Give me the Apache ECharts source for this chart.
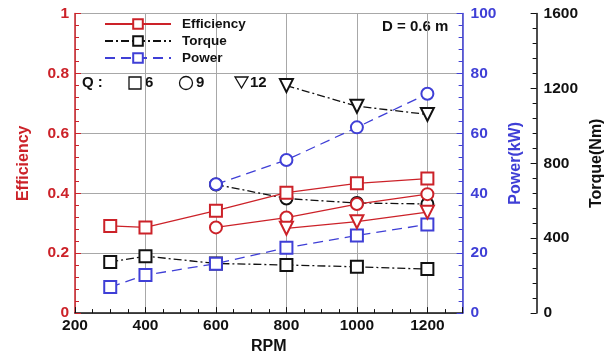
<!DOCTYPE html>
<html>
<head>
<meta charset="utf-8">
<script src="https://cdn.jsdelivr.net/npm/echarts@6/dist/echarts.min.js"></script>
<style>html,body{margin:0;padding:0;background:#fff;}#c{width:613px;height:360px;}</style>
</head>
<body>
<div id="c"></div>
<script>
// ---- data ----
const rpmQ6  = [300, 400, 600, 800, 1000, 1200];
const rpmQ9  = [600, 800, 1000, 1200];
const rpmQ12 = [800, 1000, 1200];

const effQ6  = [0.291, 0.286, 0.342, 0.402, 0.433, 0.449];
const effQ9  = [0.286, 0.319, 0.364, 0.397];
const effQ12 = [0.283, 0.305, 0.337];

const torqueQ6  = [273, 304, 265, 257, 247, 235];
const torqueQ9  = [687, 612, 588, 583];
const torqueQ12 = [1215, 1105, 1061];

const powerQ6 = [8.7, 12.7, 16.5, 21.8, 25.9, 29.6];
const powerQ9 = [43.0, 51.1, 62.0, 73.2];

const legendNames = ['Efficiency', 'Torque', 'Power'];

// ---- styles ----
const RED = '#cc2229', BLUE = '#3f3fd6', BLACK = '#111111';
const FONT = 'Liberation Sans, Arial, sans-serif';
const pair = (xs, ys) => xs.map((x, i) => [x, ys[i]]);
const plain = v => String(v);

function mk(name, xs, ys, yIdx, color, dash, symbol, z) {
  return {
    name: name, type: 'line', yAxisIndex: yIdx,
    data: pair(xs, ys),
    symbol: symbol, symbolSize: symbol === 'emptyTriangle' ? 13 : 12,
    symbolRotate: symbol === 'emptyTriangle' ? 180 : 0,
    showSymbol: true,
    lineStyle: { color: color, width: 1.3, type: dash },
    itemStyle: { color: color, borderColor: color, borderWidth: 1.3 },
    emphasis: { disabled: true },
    animation: false, z: z
  };
}

const chart = echarts.init(document.getElementById('c'), null, { renderer: 'canvas' });
chart.setOption({
  animation: false,
  grid: { left: 75, right: 147, top: 13.5, bottom: 40 },
  legend: {
    data: legendNames,
    orient: 'vertical', left: 99, top: 11,
    itemWidth: 66, itemHeight: 12, itemGap: 1,
    textStyle: { fontFamily: FONT, fontSize: 13.5, fontWeight: 'bold', color: BLACK, padding: [0, 0, 0, 6], lineHeight: 16 },
    selectedMode: false
  },
  xAxis: {
    type: 'value', min: 200, max: 1300, interval: 200,
    axisLine: { show: true, lineStyle: { color: BLACK, width: 1.5 } },
    axisTick: { show: true, inside: true, length: 6, lineStyle: { color: BLACK } },
    minorTick: { show: true, splitNumber: 4, length: 4, lineStyle: { color: BLACK } },
    axisLabel: { color: BLACK, fontFamily: FONT, fontSize: 15.5, fontWeight: 'bold', margin: 5, formatter: plain, showMaxLabel: false },
    splitLine: { show: true, lineStyle: { color: '#a8a8a8', width: 1 } },
    name: 'RPM', nameLocation: 'middle', nameGap: 23,
    nameTextStyle: { color: BLACK, fontFamily: FONT, fontSize: 16, fontWeight: 'bold' }
  },
  yAxis: [
    {
      type: 'value', position: 'left', min: 0, max: 1, interval: 0.2,
      axisLine: { show: true, lineStyle: { color: RED, width: 1.5 } },
      axisTick: { show: true, inside: true, length: 6, lineStyle: { color: RED } },
      minorTick: { show: true, splitNumber: 5, length: 4, lineStyle: { color: RED } },
      axisLabel: { color: RED, fontFamily: FONT, fontSize: 15.5, fontWeight: 'bold', margin: 6, formatter: plain },
      splitLine: { show: true, lineStyle: { color: '#a8a8a8', width: 1 } },
      name: 'Efficiency', nameLocation: 'middle', nameGap: 43, nameRotate: 90,
      nameTextStyle: { color: RED, fontFamily: FONT, fontSize: 16, fontWeight: 'bold' }
    },
    {
      type: 'value', position: 'right', min: 0, max: 100, interval: 20,
      axisLine: { show: true, lineStyle: { color: BLUE, width: 1.5 } },
      axisTick: { show: true, inside: true, length: 6, lineStyle: { color: BLUE } },
      minorTick: { show: true, splitNumber: 5, length: 4, lineStyle: { color: BLUE } },
      axisLabel: { color: BLUE, fontFamily: FONT, fontSize: 15.5, fontWeight: 'bold', margin: 8, formatter: plain },
      splitLine: { show: false },
      name: 'Power(kW)', nameLocation: 'middle', nameGap: 30, nameRotate: 90,
      nameTextStyle: { color: BLUE, fontFamily: FONT, fontSize: 16, fontWeight: 'bold' }
    },
    {
      type: 'value', position: 'right', offset: 74, min: 0, max: 1600, interval: 400,
      axisLine: { show: true, lineStyle: { color: BLACK, width: 1.5 } },
      axisTick: { show: true, inside: true, length: 6, lineStyle: { color: BLACK } },
      minorTick: { show: true, splitNumber: 5, length: 4, lineStyle: { color: BLACK } },
      axisLabel: { color: BLACK, fontFamily: FONT, fontSize: 15.5, fontWeight: 'bold', margin: 7, formatter: plain },
      splitLine: { show: false },
      name: 'Torque(Nm)', nameLocation: 'middle', nameGap: 47, nameRotate: 90,
      nameTextStyle: { color: BLACK, fontFamily: FONT, fontSize: 16, fontWeight: 'bold' }
    }
  ],
  graphic: [
    { type: 'text', left: 382, top: 19, style: { text: 'D = 0.6 m', font: 'bold 15px ' + FONT, fill: BLACK } },
    { type: 'text', left: 82, top: 75, style: { text: 'Q :', font: 'bold 15px ' + FONT, fill: BLACK } },
    { type: 'rect', shape: { x: 129, y: 77, width: 12, height: 12 }, style: { fill: 'none', stroke: BLACK, lineWidth: 1.3 } },
    { type: 'text', left: 145, top: 75, style: { text: '6', font: 'bold 15px ' + FONT, fill: BLACK } },
    { type: 'circle', shape: { cx: 186, cy: 83, r: 6.5 }, style: { fill: 'none', stroke: BLACK, lineWidth: 1.3 } },
    { type: 'text', left: 196, top: 75, style: { text: '9', font: 'bold 15px ' + FONT, fill: BLACK } },
    { type: 'polygon', shape: { points: [[235, 77], [248, 77], [241.5, 88]] }, style: { fill: 'none', stroke: BLACK, lineWidth: 1.3 } },
    { type: 'text', left: 250, top: 75, style: { text: '12', font: 'bold 15px ' + FONT, fill: BLACK } }
  ],
  series: [
    mk('Efficiency', rpmQ6, effQ6, 0, RED, 'solid', 'emptyRect', 5),
    mk('Torque', rpmQ6, torqueQ6, 2, BLACK, [8, 3, 2, 3], 'emptyRect', 4),
    mk('Power', rpmQ6, powerQ6, 1, BLUE, [10, 6], 'emptyRect', 4),
    mk('Efficiency', rpmQ9, effQ9, 0, RED, 'solid', 'emptyCircle', 5),
    mk('Efficiency', rpmQ12, effQ12, 0, RED, 'solid', 'emptyTriangle', 5),
    mk('Torque', rpmQ9, torqueQ9, 2, BLACK, [8, 3, 2, 3], 'emptyCircle', 3),
    mk('Torque', rpmQ12, torqueQ12, 2, BLACK, [8, 3, 2, 3], 'emptyTriangle', 4),
    mk('Power', rpmQ9, powerQ9, 1, BLUE, [10, 6], 'emptyCircle', 4)
  ]
});
</script>
</body>
</html>
